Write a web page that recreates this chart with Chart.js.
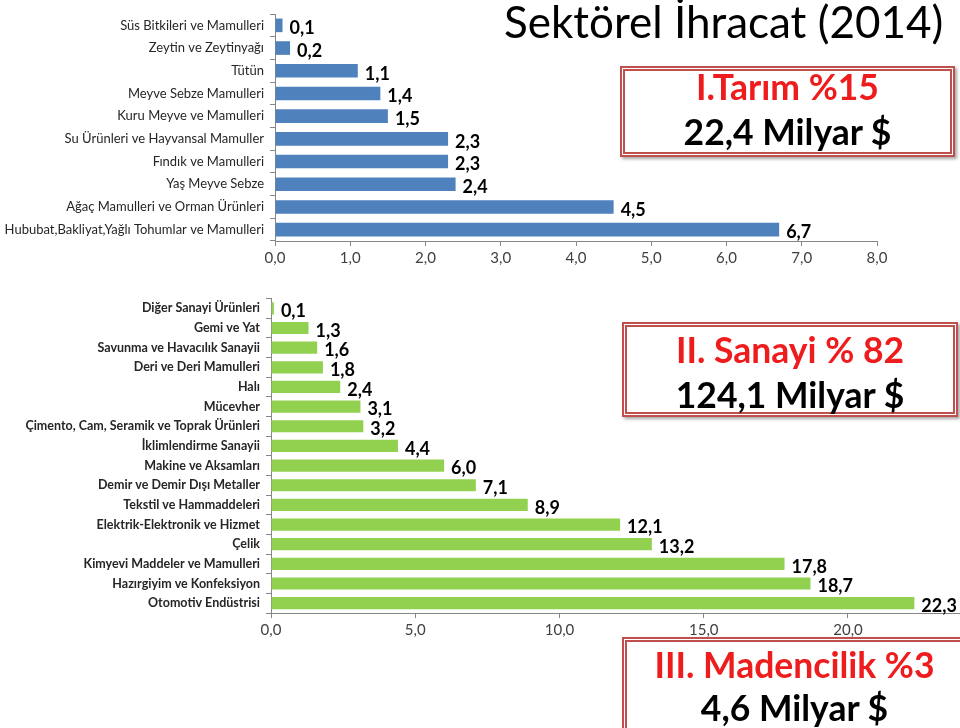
<!DOCTYPE html>
<html>
<head>
<meta charset="utf-8">
<script src="https://cdn.jsdelivr.net/npm/chart.js@4.4.0/dist/chart.umd.min.js"></script>
<style>
  body { margin: 0; width: 960px; height: 728px; overflow: hidden; background: #fff; position: relative; font-family: Lato, sans-serif; }
  canvas { position: absolute; left: 0; }
  #tarimChart { top: 0; }
  #sanayiChart { top: 285px; }
  .title { position: absolute; left: 504px; top: -5px; font-size: 44px; font-weight: 400; color: #000; white-space: nowrap; }
  .box { position: absolute; box-sizing: border-box; background: #fff; border: 5px double #c0504d; box-shadow: 2px 2px 3px rgba(0,0,0,0.35); font-weight: 700; font-size: 35.5px; }
  .box div { position: absolute; left: 0; right: 0; text-align: center; line-height: 44px; white-space: nowrap; }
  .red { color: #ee1c1c; }
</style>
</head>
<body>
<canvas id="tarimChart" width="960" height="280"></canvas>
<canvas id="sanayiChart" width="1010" height="375"></canvas>

<div class="title">Sektörel İhracat (2014)</div>
<div class="box" style="left:620px; top:66px; width:335px; height:91px;">
  <div class="red" style="top:-6px;">I.Tarım %15</div>
  <div style="top:39px;">22,4 Milyar $</div>
</div>
<div class="box" style="left:622px; top:322px; width:336px; height:95px;">
  <div class="red" style="top:1px;">II. Sanayi % 82</div>
  <div style="top:46px;">124,1 Milyar $</div>
</div>
<div class="box" style="left:622px; top:637px; width:345px; height:100px;">
  <div class="red" style="top:1px;">III. Madencilik %3</div>
  <div style="top:44px;">4,6 Milyar $</div>
</div>

<script>
const tarimLabels = [
  "Süs Bitkileri ve Mamulleri",
  "Zeytin ve Zeytinyağı",
  "Tütün",
  "Meyve Sebze Mamulleri",
  "Kuru Meyve ve Mamulleri",
  "Su Ürünleri ve Hayvansal Mamuller",
  "Fındık ve Mamulleri",
  "Yaş Meyve Sebze",
  "Ağaç Mamulleri ve Orman Ürünleri",
  "Hububat,Bakliyat,Yağlı Tohumlar ve Mamulleri"
];
const tarimValues = [0.1, 0.2, 1.1, 1.4, 1.5, 2.3, 2.3, 2.4, 4.5, 6.7];
const tarimAxis = { min: 0, max: 8, step: 1 };

const sanayiLabels = [
  "Diğer Sanayi Ürünleri",
  "Gemi ve Yat",
  "Savunma ve Havacılık Sanayii",
  "Deri ve Deri Mamulleri",
  "Halı",
  "Mücevher",
  "Çimento, Cam, Seramik ve Toprak Ürünleri",
  "İklimlendirme Sanayii",
  "Makine ve Aksamları",
  "Demir ve Demir Dışı Metaller",
  "Tekstil ve Hammaddeleri",
  "Elektrik-Elektronik ve Hizmet",
  "Çelik",
  "Kimyevi Maddeler ve Mamulleri",
  "Hazırgiyim ve Konfeksiyon",
  "Otomotiv Endüstrisi"
];
const sanayiValues = [0.1, 1.3, 1.6, 1.8, 2.4, 3.1, 3.2, 4.4, 6.0, 7.1, 8.9, 12.1, 13.2, 17.8, 18.7, 22.3];
const sanayiAxis = { min: 0, max: 25, step: 5 };

const fmt = v => v.toFixed(1).replace('.', ',');

// bar end value labels, like Excel's "outside end"
const valueLabels = {
  id: 'valueLabels',
  afterDatasetsDraw(chart) {
    const ctx = chart.ctx;
    const meta = chart.getDatasetMeta(0);
    ctx.save();
    ctx.font = 'bold 18px Lato';
    ctx.fillStyle = '#000';
    ctx.textAlign = 'left';
    ctx.textBaseline = 'middle';
    meta.data.forEach((bar, i) => {
      ctx.fillText(fmt(chart.data.datasets[0].data[i]), bar.x + 7, bar.y + 3);
    });
    ctx.restore();
  }
};

function makeChart(id, labels, values, axis, color, opt) {
  return new Chart(document.getElementById(id), {
    type: 'bar',
    data: {
      labels: labels,
      datasets: [{
        data: values,
        backgroundColor: color,
        categoryPercentage: 1,
        barPercentage: opt.barPct
      }]
    },
    options: {
      indexAxis: 'y',
      responsive: false,
      animation: false,
      layout: { padding: opt.padding },
      plugins: { legend: { display: false }, tooltip: { enabled: false } },
      scales: {
        x: {
          min: axis.min,
          max: axis.max,
          ticks: {
            stepSize: axis.step,
            callback: v => fmt(v),
            color: '#404040',
            font: { family: 'Lato', size: 15 },
            padding: 3
          },
          grid: { drawOnChartArea: false, tickLength: 5, color: '#868686' },
          border: { color: '#868686' },
          afterFit: s => { s.height = opt.xHeight; }
        },
        y: {
          ticks: {
            color: '#262626',
            font: { family: 'Lato', size: opt.labelSize, weight: opt.labelWeight },
            padding: 6,
            autoSkip: false
          },
          grid: { drawOnChartArea: false, tickLength: 5, color: '#868686' },
          border: { color: '#868686' },
          afterFit: s => { s.width = opt.yWidth; }
        }
      }
    },
    plugins: [valueLabels]
  });
}

makeChart('tarimChart', tarimLabels, tarimValues, tarimAxis, '#4f81bd', {
  barPct: 0.6, padding: { top: 14, right: 83, left: 0, bottom: 0 },
  xHeight: 39, yWidth: 275, labelSize: 13, labelWeight: 'normal'
});

makeChart('sanayiChart', sanayiLabels, sanayiValues, sanayiAxis, '#92d050', {
  barPct: 0.62, padding: { top: 9, right: 11, left: 0, bottom: 0 },
  xHeight: 47, yWidth: 271, labelSize: 12.5, labelWeight: 'bold'
});
</script>
</body>
</html>
